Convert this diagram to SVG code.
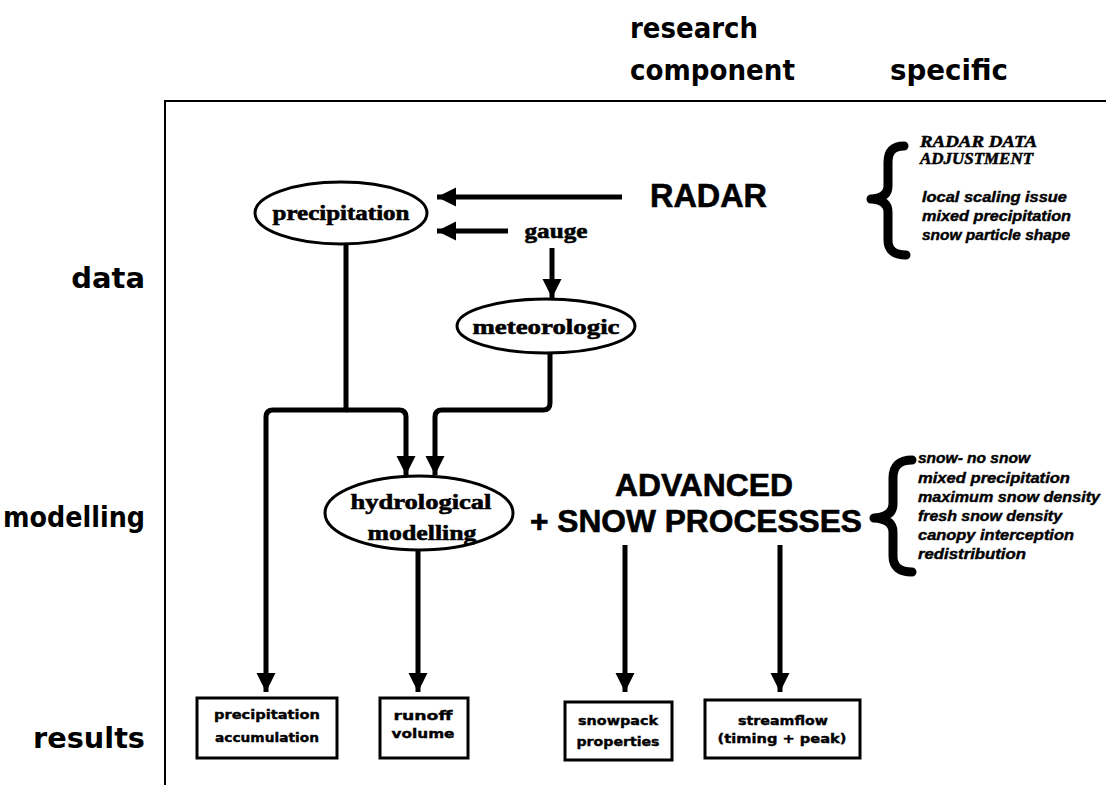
<svg xmlns="http://www.w3.org/2000/svg" width="1106" height="785" viewBox="0 0 1106 785">
<defs>
<style>
.hand{font-family:"DejaVu Sans","Liberation Sans",sans-serif;font-weight:bold;font-size:29px;fill:#000}
.node{font-family:"Liberation Serif","DejaVu Serif",serif;font-weight:900;font-size:22px;fill:#000;stroke:#000;stroke-width:0.6;text-anchor:middle}
.box{font-family:"DejaVu Sans","Liberation Sans",sans-serif;font-weight:bold;font-size:13px;fill:#000;stroke:#000;stroke-width:0.4;text-anchor:middle}
.big{font-family:"Liberation Sans",Arial,sans-serif;font-weight:bold;fill:#000;stroke:#000;stroke-width:0.6}
.spec{font-family:"Liberation Sans",sans-serif;font-weight:bold;font-style:italic;font-size:14px;fill:#000;stroke:#000;stroke-width:0.4}
.spech{font-family:"Liberation Serif",serif;font-weight:bold;font-style:italic;font-size:16px;fill:#000;stroke:#000;stroke-width:0.5}
.shape{fill:#fff;stroke:#000;stroke-width:3}
.conn{fill:none;stroke:#000;stroke-width:5;stroke-linejoin:round}
.brace{fill:none;stroke:#000;stroke-width:9;stroke-linecap:round;stroke-linejoin:round}
.frame{stroke:#000;stroke-width:2;fill:none}
</style>
<marker id="ah" viewBox="0 0 10 10" refX="10" refY="5" markerUnits="userSpaceOnUse" markerWidth="19" markerHeight="20" orient="auto">
<path d="M0,0 L10,5 L0,10 Z" fill="#000"/>
</marker>
</defs>
<rect width="1106" height="785" fill="#fff"/>

<g id="frame">
<path class="frame" d="M165,785 V101 H1106"/>
</g>

<g id="headers">
<text class="hand" x="630" y="38" textLength="128" lengthAdjust="spacingAndGlyphs">research</text>
<text class="hand" x="630" y="80" textLength="165" lengthAdjust="spacingAndGlyphs">component</text>
<text class="hand" x="890" y="80" textLength="118" lengthAdjust="spacingAndGlyphs">specific</text>
<text class="hand" x="145" y="288" text-anchor="end">data</text>
<text class="hand" x="145" y="527" text-anchor="end" textLength="142" lengthAdjust="spacingAndGlyphs">modelling</text>
<text class="hand" x="145" y="748" text-anchor="end" textLength="112" lengthAdjust="spacingAndGlyphs">results</text>
</g>

<g id="connectors">
<path class="conn" d="M622,197 H437" marker-end="url(#ah)"/>
<path class="conn" d="M508,231 H437" marker-end="url(#ah)"/>
<path class="conn" d="M552,248 V298" marker-end="url(#ah)"/>
<path class="conn" d="M346,244 V410 H273 Q266,410 266,417 V692" marker-end="url(#ah)"/>
<path class="conn" d="M346,410 H399 Q406,410 406,417 V475" marker-end="url(#ah)"/>
<path class="conn" d="M550,353 V403 Q550,410 543,410 H442 Q435,410 435,417 V475" marker-end="url(#ah)"/>
<path class="conn" d="M418,550 V692" marker-end="url(#ah)"/>
<path class="conn" d="M625,545 V692" marker-end="url(#ah)"/>
<path class="conn" d="M780,545 V692" marker-end="url(#ah)"/>
</g>

<g id="radar">
<text class="big" x="650" y="207" font-size="33" textLength="117" lengthAdjust="spacingAndGlyphs">RADAR</text>
</g>

<g id="precipitation">
<ellipse class="shape" cx="341" cy="213" rx="86" ry="31"/>
<text class="node" x="341" y="220" textLength="137" lengthAdjust="spacingAndGlyphs">precipitation</text>
</g>

<g id="gauge">
<text class="node" x="556" y="238" textLength="63" lengthAdjust="spacingAndGlyphs">gauge</text>
</g>

<g id="meteorologic">
<ellipse class="shape" cx="546" cy="326" rx="89" ry="27"/>
<text class="node" x="546" y="334" textLength="147" lengthAdjust="spacingAndGlyphs">meteorologic</text>
</g>

<g id="hydrological">
<ellipse class="shape" cx="419" cy="513" rx="94" ry="37"/>
<text class="node" x="421" y="509" textLength="141" lengthAdjust="spacingAndGlyphs">hydrological</text>
<text class="node" x="422" y="540" textLength="109" lengthAdjust="spacingAndGlyphs">modelling</text>
</g>

<g id="snow-processes">
<text class="big" x="704" y="496" font-size="31" text-anchor="middle" textLength="178" lengthAdjust="spacingAndGlyphs">ADVANCED</text>
<text class="big" x="696" y="532" font-size="31" text-anchor="middle" textLength="332" lengthAdjust="spacingAndGlyphs">+ SNOW PROCESSES</text>
</g>

<g id="precip-accumulation">
<rect class="shape" x="197" y="698" width="140" height="60"/>
<text class="box" x="267" y="719" textLength="106" lengthAdjust="spacingAndGlyphs">precipitation</text>
<text class="box" x="267" y="742" textLength="104" lengthAdjust="spacingAndGlyphs">accumulation</text>
</g>

<g id="runoff-volume">
<rect class="shape" x="380" y="698" width="88" height="60"/>
<text class="box" x="423" y="720" textLength="59" lengthAdjust="spacingAndGlyphs">runoff</text>
<text class="box" x="423" y="738" textLength="63" lengthAdjust="spacingAndGlyphs">volume</text>
</g>

<g id="snowpack-properties">
<rect class="shape" x="565" y="702" width="107" height="58"/>
<text class="box" x="618" y="725" textLength="80" lengthAdjust="spacingAndGlyphs">snowpack</text>
<text class="box" x="618" y="746" textLength="83" lengthAdjust="spacingAndGlyphs">properties</text>
</g>

<g id="streamflow">
<rect class="shape" x="705" y="700" width="155" height="58"/>
<text class="box" x="783" y="725" textLength="90" lengthAdjust="spacingAndGlyphs">streamflow</text>
<text class="box" x="782" y="743" textLength="129" lengthAdjust="spacingAndGlyphs">(timing + peak)</text>
</g>

<g id="radar-adjustment">
<path class="brace" d="M904,146 Q888,146 888,162 V186 Q888,198 871,199 Q888,200 888,212 V240 Q888,255 906,255"/>
<text class="spech" x="920" y="147" textLength="117" lengthAdjust="spacingAndGlyphs">RADAR DATA</text>
<text class="spech" x="920" y="164" textLength="113" lengthAdjust="spacingAndGlyphs">ADJUSTMENT</text>
<text class="spec" x="922" y="202" textLength="145" lengthAdjust="spacingAndGlyphs">local scaling issue</text>
<text class="spec" x="922" y="221" textLength="149" lengthAdjust="spacingAndGlyphs">mixed precipitation</text>
<text class="spec" x="922" y="240" textLength="148" lengthAdjust="spacingAndGlyphs">snow particle shape</text>
</g>

<g id="snow-specific">
<path class="brace" d="M912,460 Q893,460 893,478 V504 Q893,517 874,518 Q893,519 893,532 V556 Q893,572 912,572"/>
<text class="spec" x="918" y="463" textLength="112" lengthAdjust="spacingAndGlyphs">snow- no snow</text>
<text class="spec" x="918" y="483" textLength="152" lengthAdjust="spacingAndGlyphs">mixed precipitation</text>
<text class="spec" x="918" y="502" textLength="182" lengthAdjust="spacingAndGlyphs">maximum snow density</text>
<text class="spec" x="918" y="521" textLength="144" lengthAdjust="spacingAndGlyphs">fresh snow density</text>
<text class="spec" x="918" y="540" textLength="156" lengthAdjust="spacingAndGlyphs">canopy interception</text>
<text class="spec" x="918" y="559" textLength="108" lengthAdjust="spacingAndGlyphs">redistribution</text>
</g>
</svg>
